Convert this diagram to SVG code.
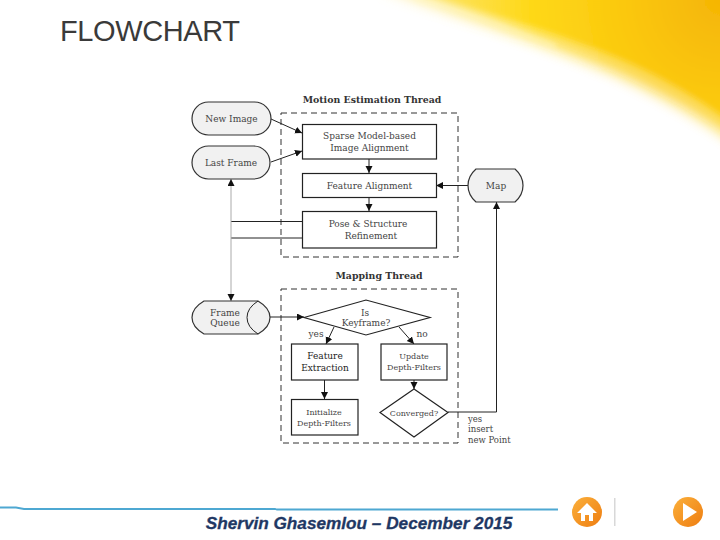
<svg xmlns="http://www.w3.org/2000/svg" width="720" height="540" viewBox="0 0 720 540">
<style>
.n{fill:#fff;stroke:#222;stroke-width:1.2}
.g{fill:#f1f1f1;stroke:#333;stroke-width:1.2}
.t{font-family:"DejaVu Serif","Liberation Serif",serif;font-size:9px;fill:#444;text-anchor:middle}
.b{font-weight:bold;fill:#333;font-size:9.400px}
.l{fill:none;stroke:#222;stroke-width:1}
.a{marker-end:url(#ah)}
.d{fill:none;stroke:#333;stroke-width:1;stroke-dasharray:6 4}
</style>
<defs>
<marker id="ah" markerUnits="userSpaceOnUse" markerWidth="8" markerHeight="8" refX="7" refY="3.5" orient="auto"><path d="M0 0L7 3.5L0 7z" fill="#111"/></marker>
<marker id="as" markerUnits="userSpaceOnUse" markerWidth="8" markerHeight="8" refX="7" refY="3.5" orient="auto-start-reverse"><path d="M0 0L7 3.5L0 7z" fill="#111"/></marker>
<radialGradient id="y" gradientUnits="userSpaceOnUse" cx="720" cy="0" r="340"><stop offset="0" stop-color="#f5b505"/><stop offset="0.3" stop-color="#fbc90f"/><stop offset="0.55" stop-color="#fed816"/><stop offset="0.8" stop-color="#fde25a"/><stop offset="1" stop-color="#fff0b0"/></radialGradient>
<linearGradient id="o" x1="0" y1="0" x2="1" y2="1"><stop offset="0" stop-color="#fbb03b"/><stop offset="1" stop-color="#ee7d11"/></linearGradient>
<filter id="s1" x="-10%" y="-20%" width="120%" height="140%"><feGaussianBlur stdDeviation="7"/></filter>
<filter id="s2" x="-10%" y="-20%" width="120%" height="140%"><feGaussianBlur stdDeviation="2.500"/></filter>
</defs>
<rect width="720" height="540" fill="#fff"/>
<g id="swoosh">
<path d="M385 -10C470 18 585 55 650 90C685 108 708 122 740 145V-30H385Z" fill="url(#y)" filter="url(#s1)" opacity="0.75"/>
<path d="M420 -8C500 15 590 42 650 72C685 90 710 106 735 125V-30H420Z" fill="url(#y)" filter="url(#s2)"/>
<path d="M415 0C460 10 510 28 555 46" fill="none" stroke="#fff8cc" stroke-width="2" filter="url(#s2)"/>
</g>
<text x="60" y="41" font-family="'Liberation Sans',Arial,sans-serif" font-size="29" letter-spacing="-0.4" fill="#3a3a3a">FLOWCHART</text>
<g id="labels">
<text class="t b" x="372" y="102.500">Motion Estimation Thread</text>
<text class="t b" x="379" y="278.500">Mapping Thread</text>
</g>
<g id="regions">
<rect class="d" x="281" y="113" width="177" height="144"/>
<rect class="d" x="281" y="289" width="177" height="154"/>
</g>
<g id="connectors">
<path class="l a" d="M271 119L302 133"/>
<path class="l a" d="M271 162L302 151"/>
<path class="l a" d="M369 159V173"/>
<path class="l a" d="M369 197.500V211"/>
<path class="l a" d="M468 185.500H436"/>
<path class="l" d="M231 221.500H302M231 238H302"/>
<path d="M231 179V301" fill="none" stroke="#aaa" stroke-width="1" marker-start="url(#as)" marker-end="url(#as)"/>
<path class="l a" d="M270 317H304"/>
<path class="l a" d="M334 327L326 344"/>
<path class="l a" d="M399 327L414 344"/>
<path class="l a" d="M324.500 380V399"/>
<path class="l a" d="M414 380V389"/>
<path class="l a" d="M448 412H496.500V202"/>
</g>
<g id="new-image"><rect class="g" x="192" y="102" width="79" height="33" rx="16.500"/><text class="t" x="231.500" y="122">New Image</text></g>
<g id="last-frame"><rect class="g" x="192" y="146" width="78" height="33" rx="16.500"/><text class="t" x="231" y="166">Last Frame</text></g>
<g id="sparse"><rect class="n" x="302.500" y="124.500" width="134" height="34.500"/><text class="t" x="369.500" y="138.500">Sparse Model-based</text><text class="t" x="369.500" y="150.500">Image Alignment</text></g>
<g id="feature-alignment"><rect class="n" x="302.500" y="173.500" width="134" height="24"/><text class="t" x="369.500" y="189">Feature Alignment</text></g>
<g id="pose"><rect class="n" x="302.500" y="211.500" width="134" height="36.500"/><text class="t" x="368" y="227">Pose &amp; Structure</text><text class="t" x="371" y="238.500">Refinement</text></g>
<g id="map"><path class="g" d="M476 169H515Q523 176 523 185.500Q523 195 515 202H476Q468 195 468 185.500Q468 176 476 169Z"/><text class="t" x="496" y="188.500">Map</text></g>
<g id="frame-queue"><path class="g" d="M204 301H258Q270 308 270 317.500Q270 327 258 334H204Q192 327 192 317.500Q192 308 204 301Z"/><path class="l" d="M258 301Q247 308 247 317.500Q247 327 258 334"/><text class="t" x="225" y="315.500">Frame</text><text class="t" x="225" y="325.500">Queue</text></g>
<g id="is-keyframe"><path class="n" d="M304 317.500L366 300L430 317.500L366 335Z"/><text class="t" x="365" y="315.500">Is</text><text class="t" x="366" y="326">Keyframe?</text></g>
<g id="feature-extraction"><rect class="n" x="291.500" y="344" width="66.500" height="36"/><text class="t" x="325" y="359" style="fill:#222">Feature</text><text class="t" x="325" y="371" style="fill:#222">Extraction</text></g>
<g id="update"><rect class="n" x="381" y="344" width="66" height="36"/><text class="t" x="414" y="359" style="font-size:8px">Update</text><text class="t" x="414" y="370" style="font-size:8px">Depth-Filters</text></g>
<g id="initialize"><rect class="n" x="291.500" y="399.500" width="66.500" height="35.500"/><text class="t" x="324" y="414.500" style="font-size:8px">Initialize</text><text class="t" x="324" y="425.500" style="font-size:8px">Depth-Filters</text></g>
<g id="converged"><path class="n" d="M380 412.500L414 389L448 412.500L414 437Z"/><text class="t" x="414" y="415.500" style="font-size:8px">Converged?</text></g>
<g id="edge-labels">
<text class="t" x="316" y="337">yes</text>
<text class="t" x="422" y="337">no</text>
<text class="t" x="468" y="422" style="text-anchor:start;font-size:8.500px">yes</text>
<text class="t" x="468" y="432" style="text-anchor:start;font-size:8.500px">insert</text>
<text class="t" x="468" y="443" style="text-anchor:start;font-size:8.500px">new Point</text>
</g>
<g id="footer">
<path d="M0 507.500H16L24 509H275L277 509.500H558" fill="none" stroke="#4ea8d2" stroke-width="1.800"/>
<text x="359" y="529" font-family="'Liberation Sans',Arial,sans-serif" font-size="17.200" font-style="italic" font-weight="bold" fill="#1f3864" stroke="#1f3864" stroke-width="0.3" text-anchor="middle">Shervin Ghasemlou – December 2015</text>
<ellipse cx="587" cy="512" rx="15" ry="15" fill="url(#o)"/>
<path d="M587 503L597 513H593V521H589V515H585V521H581V513H577Z" fill="#fff"/>
<rect x="614" y="498" width="1.500" height="28" fill="#d8d8d8"/>
<ellipse cx="688" cy="512" rx="15" ry="15" fill="url(#o)"/>
<path d="M683 503L697 512L683 521Z" fill="#fff"/>
</g>
</svg>
